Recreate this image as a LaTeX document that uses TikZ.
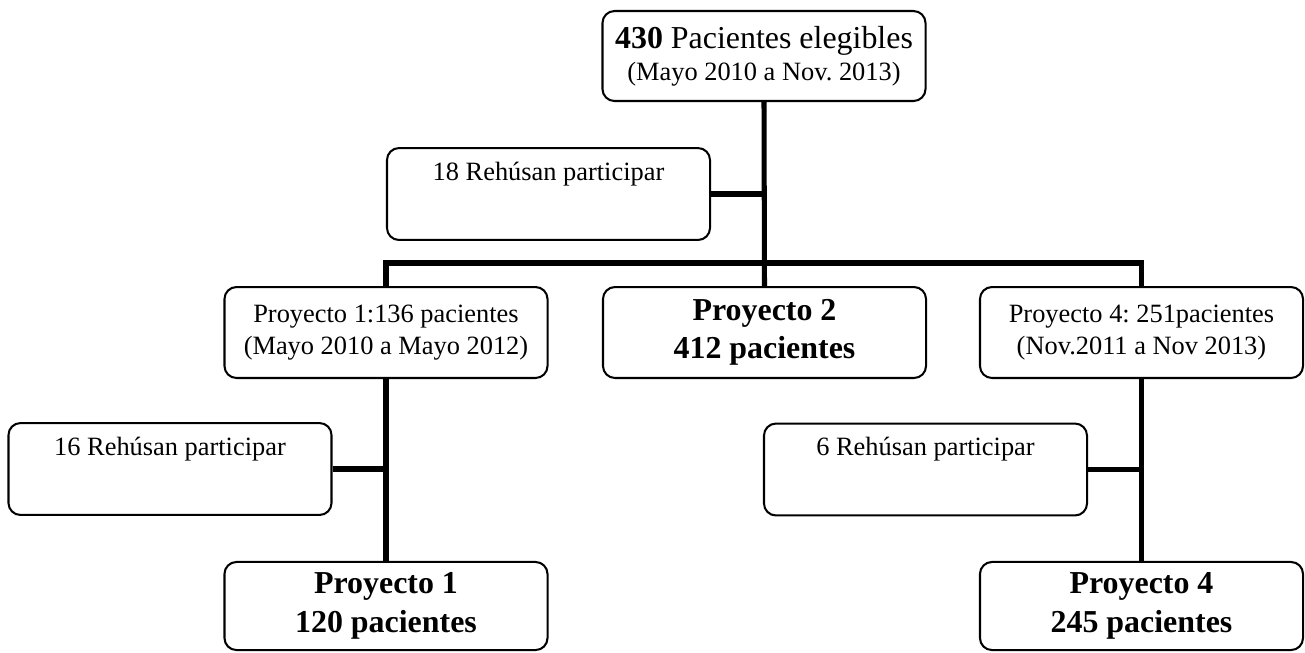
\documentclass[tikz,border=0pt]{standalone}
\usepackage{fontspec}
\setmainfont{Liberation Serif}
\frenchspacing
\usepackage{tikz}
\usetikzlibrary{positioning}
\tikzstyle{caja} = [draw, line width=0.85pt, rounded corners=5pt, minimum width=134.6pt, inner sep=0pt, align=center, font=\fontsize{11}{13.3}\selectfont]
\tikzstyle{rechazo} = [caja, minimum height=38.3pt, text height=13.5pt, text depth=24.8pt]
\tikzstyle{negrita} = [caja, font=\fontsize{13.3}{16}\selectfont\bfseries]
\tikzstyle{linea} = [draw, line width=2.1pt]

\begin{document}
\begin{tikzpicture}[x=0.41667pt, y=-0.41667pt]
\useasboundingbox (0,0) rectangle (1305,652);
\node[caja, minimum height=37.5pt] (elig) at (764,56) {{\fontsize{13.3}{13.3}\selectfont\textbf{430} Pacientes elegibles}\\(Mayo 2010 a Nov. 2013)};
\node[rechazo] (rech1) at (548.5,194) {18 Rehúsan participar};
%
\node[caja, minimum height=37.9pt] (p1a) at (386,332.5) {Proyecto 1:136 pacientes\\(Mayo 2010 a Mayo 2012)};
\node[negrita, minimum height=37.9pt] (p2) at (764.5,332.5) {Proyecto 2\\412 pacientes};
\node[caja, minimum height=37.9pt] (p4a) at (1141.5,332.5) {Proyecto 4: 251pacientes\\(Nov.2011 a Nov 2013)};
%
\node[rechazo] (rech2) at (170,469) {16 Rehúsan participar};
\node[rechazo] (rech3) at (925.5,469.5) {6 Rehúsan participar};
%
\node[negrita, minimum height=36.7pt] (p1b) at (386,606) {Proyecto 1\\120 pacientes};
\node[negrita, minimum height=36.7pt] (p4b) at (1141.5,606) {Proyecto 4\\245 pacientes};
%
\coordinate (bus) at (0,263);
\draw[linea] (elig.south) -- (p2.north);
\draw[linea] (rech1.east) -- (rech1.east -| elig.south);
\draw[linea] (p1a.north) |- (bus -| p4a.north) -- (p4a.north);
%
\draw[linea] (p1a.south) -- (p1b.north);
\draw[linea] (rech2.east) -- (rech2.east -| p1a.south);
\draw[linea] (p4a.south) -- (p4b.north);
\draw[linea] (rech3.east) -- (rech3.east -| p4a.south);
\end{tikzpicture}
\end{document}
